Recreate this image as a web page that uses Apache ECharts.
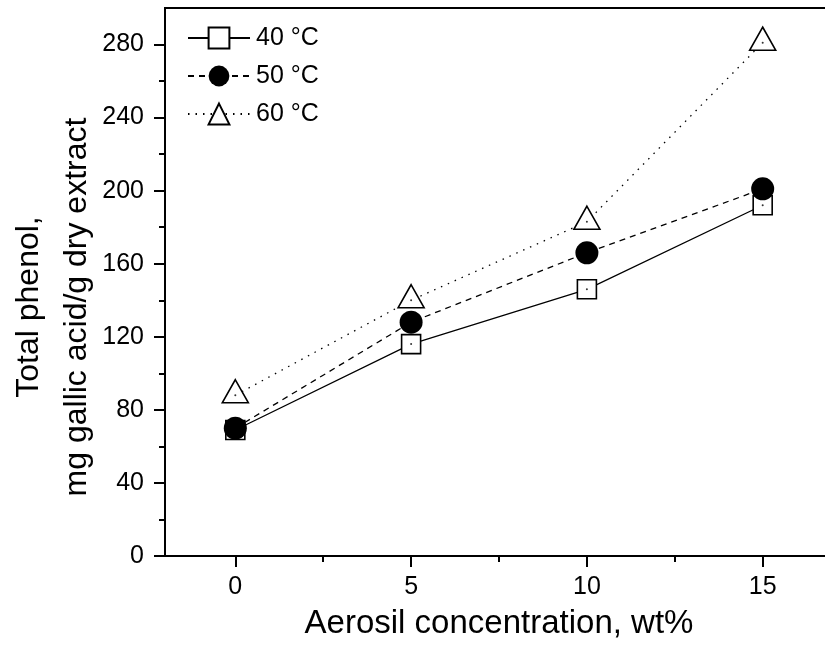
<!DOCTYPE html>
<html>
<head>
<meta charset="utf-8">
<script src="https://cdn.jsdelivr.net/npm/echarts@6/dist/echarts.min.js"></script>
<style>
html,body{margin:0;padding:0;background:#fff;}
#chart{width:825px;height:645px;}
</style>
</head>
<body>
<div id="chart"></div>
<script>
// ---- data ----
const xValues = [0, 5, 10, 15];
const s40 = [69, 116, 146, 192];
const s50 = [70, 128, 166, 201];
const s60 = [88, 140, 183, 281];
const seriesNames = ['40 °C', '50 °C', '60 °C'];
const xMajorTicks = [0, 5, 10, 15];
const xMinorTicks = [2.5, 7.5, 12.5];
const yMajorTicks = [0, 40, 80, 120, 160, 200, 240, 280];
const yMinorTicks = [20, 60, 100, 140, 180, 220, 260];
const xTitle = 'Aerosil concentration, wt%';
const yTitle = 'Total phenol,\nmg gallic acid/g dry extract';

const pairs = arr => xValues.map((x, i) => [x, arr[i]]);
const FONT = '"Liberation Sans", Arial, sans-serif';

const chart = echarts.init(document.getElementById('chart'), null, {renderer: 'canvas'});
const axisLine = {show: true, onZero: false, lineStyle: {color: '#000', width: 2}};

chart.setOption({
  animation: false,
  backgroundColor: '#fff',
  grid: {left: 165, right: -8, top: 8, bottom: 89, show: true, borderColor: '#000', borderWidth: 2,
         containLabel: false, outerBoundsMode: 'none'},
  legend: {
    orient: 'vertical', left: 187, top: 25, padding: 0,
    itemWidth: 62, itemHeight: 26, itemGap: 12,
    data: seriesNames,
    textStyle: {fontFamily: FONT, fontSize: 25, color: '#000', lineHeight: 26, padding: [0, 0, 0, 1]}
  },
  xAxis: [{
    type: 'value', min: -2, max: 17,
    axisLine: axisLine,
    splitLine: {show: false},
    axisTick: {show: true, customValues: xMajorTicks, length: 11, lineStyle: {color: '#000', width: 2}},
    axisLabel: {customValues: xMajorTicks, margin: 19, fontFamily: FONT, fontSize: 25, color: '#000'},
    name: xTitle, nameLocation: 'middle', nameGap: 51, nameMoveOverlap: false,
    nameTextStyle: {fontFamily: FONT, fontSize: 33, color: '#000'}
  }, {
    type: 'value', min: -2, max: 17, position: 'bottom',
    axisLine: {show: false, onZero: false}, splitLine: {show: false},
    axisTick: {show: true, customValues: xMinorTicks, length: 6, lineStyle: {color: '#000', width: 2}},
    axisLabel: {show: false}
  }],
  yAxis: [{
    type: 'value', min: 0, max: 300,
    axisLine: axisLine,
    splitLine: {show: false},
    axisTick: {show: true, customValues: yMajorTicks, length: 11, lineStyle: {color: '#000', width: 2}},
    axisLabel: {customValues: yMajorTicks, margin: 21, fontFamily: FONT, fontSize: 25, color: '#000'},
    name: yTitle, nameLocation: 'middle', nameGap: 64, nameRotate: 90, nameMoveOverlap: false,
    nameTextStyle: {fontFamily: FONT, fontSize: 32, color: '#000', lineHeight: 48, align: 'center', padding: [0, 50, 0, 0]}
  }, {
    type: 'value', min: 0, max: 300, position: 'left', offset: 0,
    axisLine: {show: false, onZero: false}, splitLine: {show: false},
    axisTick: {show: true, customValues: yMinorTicks, length: 6, lineStyle: {color: '#000', width: 2}},
    axisLabel: {show: false}
  }],
  series: [{
    name: seriesNames[0], type: 'line', data: pairs(s40),
    symbol: 'rect', symbolSize: 19, showAllSymbol: true,
    lineStyle: {color: '#000', width: 1.3, type: 'solid'},
    itemStyle: {color: '#fff', borderColor: '#000', borderWidth: 1.6},
    z: 2
  }, {
    name: seriesNames[1], type: 'line', data: pairs(s50),
    symbol: 'circle', symbolSize: 23,
    lineStyle: {color: '#000', width: 1.3, type: [6, 5]},
    itemStyle: {color: '#000', borderColor: '#000', borderWidth: 0},
    z: 3
  }, {
    name: seriesNames[2], type: 'line', data: pairs(s60),
    symbol: 'triangle', symbolSize: [26, 23], symbolOffset: [0, -4],
    lineStyle: {color: '#000', width: 1.3, type: [1.5, 6]},
    itemStyle: {color: '#fff', borderColor: '#000', borderWidth: 1.6},
    z: 4
  }, {
    name: 'dot40', type: 'scatter', data: pairs(s40), symbol: 'circle', symbolSize: 2,
    itemStyle: {color: '#000'}, z: 5, silent: true
  }, {
    name: 'dot60', type: 'scatter', data: pairs(s60), symbol: 'circle', symbolSize: 2,
    itemStyle: {color: '#000'}, z: 5, silent: true
  }]
});
</script>
</body>
</html>
